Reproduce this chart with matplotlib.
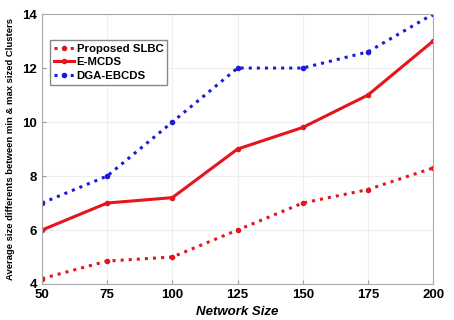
import matplotlib
matplotlib.use("Agg")
import matplotlib.pyplot as plt

# data
network_size = [50, 75, 100, 125, 150, 175, 200]
slbc = [4.2, 4.85, 5.0, 6.0, 7.0, 7.5, 8.3]
emcds = [6.0, 7.0, 7.2, 9.0, 9.8, 11.0, 13.0]
dga_ebcds = [7.0, 8.0, 10.0, 12.0, 12.0, 12.6, 14.0]

plt.rcParams['font.family'] = ['Liberation Sans', 'DejaVu Sans']

fig = plt.figure(figsize=(4.54, 3.2), dpi=100)
ax = fig.add_axes([0.0925, 0.1125, 0.8615, 0.8435])

ax.plot(network_size, slbc, ':', color='#e8141c', lw=2.2, marker='o', ms=3, label='Proposed SLBC')
ax.plot(network_size, emcds, '-', color='#e8141c', lw=2.2, marker='o', ms=3, label='E-MCDS')
ax.plot(network_size, dga_ebcds, ':', color='#1a1adc', lw=2.2, marker='o', ms=3, label='DGA-EBCDS')

ax.set_xlim(50, 200)
ax.set_ylim(4, 14)
ax.set_xticks(network_size)
ax.set_yticks([4, 6, 8, 10, 12, 14])
ax.tick_params(labelsize=9.5, length=3, direction='in', color='#999999')
for lbl in ax.get_xticklabels() + ax.get_yticklabels():
    lbl.set_fontweight('bold')
for s in ax.spines.values():
    s.set_color('#aaaaaa')
ax.grid(True, color='#eeeeee', lw=0.8)

ax.set_xlabel('Network Size', fontsize=9.5, fontweight='bold', style='italic', labelpad=4)
ax.set_ylabel('Average size differents between min & max sized Clusters', fontsize=6.8,
              fontweight='bold', labelpad=5)

leg = ax.legend(loc='upper left', bbox_to_anchor=(0.02, 0.905), borderaxespad=0,
                prop={'weight': 'bold', 'size': 8.2}, handlelength=1.8, handletextpad=0.2,
                borderpad=0.35, labelspacing=0.3, fancybox=False, framealpha=1,
                edgecolor='#888888')

fig.savefig('out.png', dpi=100)
